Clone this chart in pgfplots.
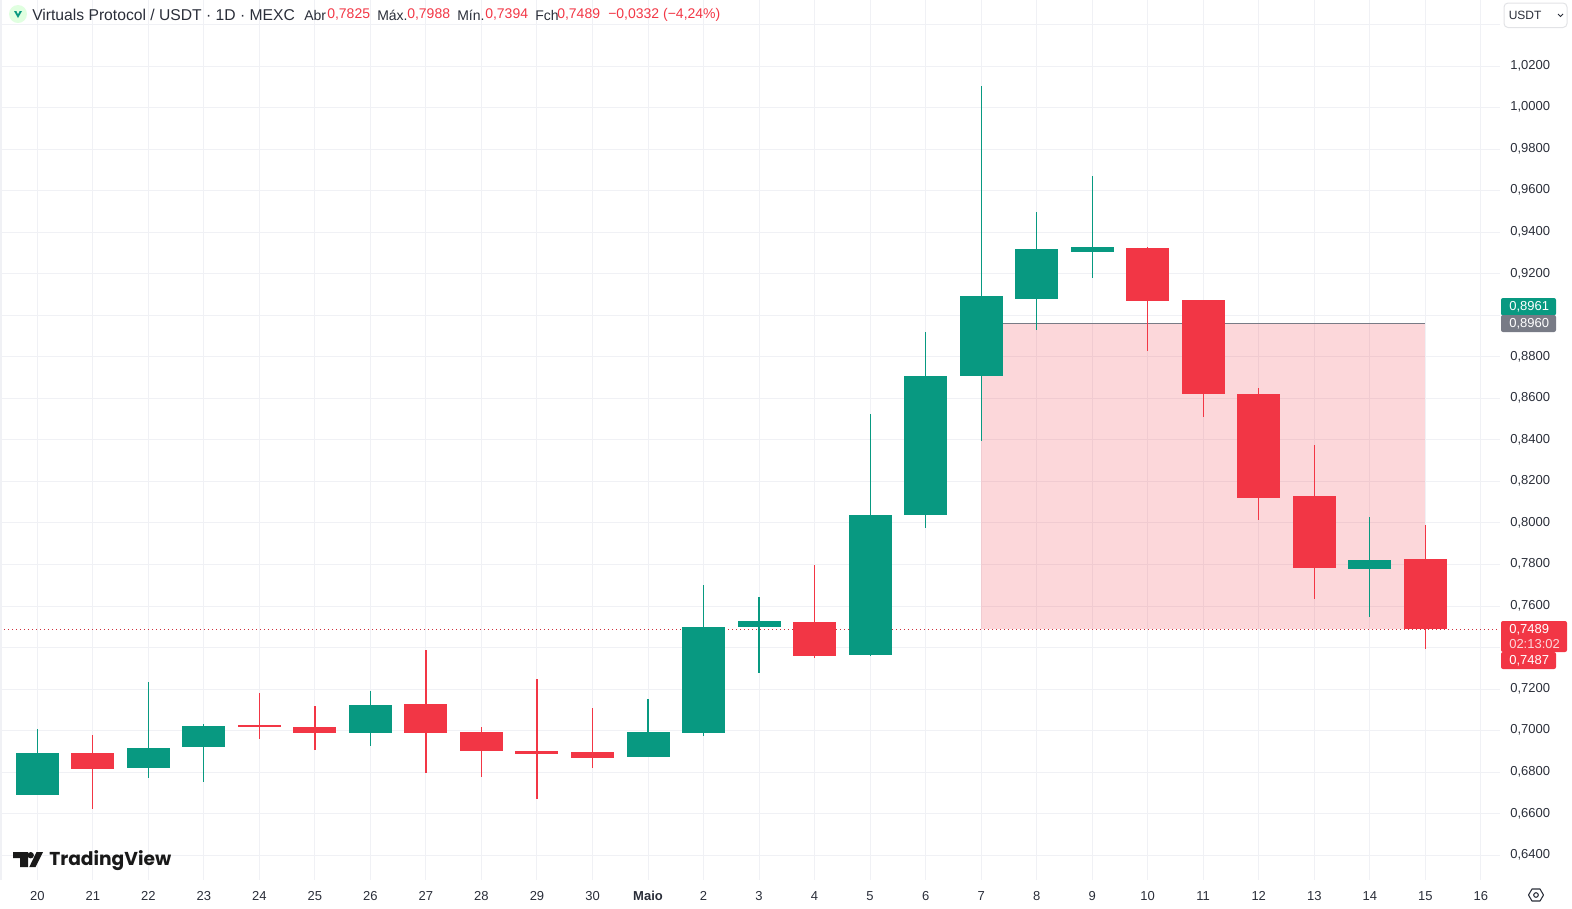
\documentclass[border=0pt]{standalone}
\usepackage{pgfplots}
\usepackage{pgfplotstable}
\usepackage{fontspec}
\pgfplotsset{compat=1.18}
\setmainfont{Liberation Sans}
\newfontfamily\logofont{Poppins}
\definecolor{up}{HTML}{089981}
\definecolor{down}{HTML}{F23645}
\definecolor{gridc}{HTML}{F0F1F5}
\definecolor{tagg}{HTML}{787B86}
\definecolor{ink}{HTML}{2A2E39}
\pgfplotstableread{
x high top bottom low
0 0.7008 0.6892 0.6690 0.6690
2 0.7234 0.6916 0.6820 0.6773
3 0.7032 0.7022 0.6921 0.6754
6 0.7191 0.7123 0.6989 0.6928
11 0.7152 0.6993 0.6873 0.6873
12 0.7701 0.7499 0.6989 0.6976
13 0.7643 0.7528 0.7499 0.7279
15 0.8525 0.8038 0.7364 0.7359
16 0.8919 0.8708 0.8038 0.7977
17 1.0104 0.9093 0.8709 0.8395
18 0.9497 0.9319 0.9078 0.8930
19 0.9670 0.9329 0.9304 0.9181
24 0.8029 0.7822 0.7778 0.7549
}\upcandles
\pgfplotstableread{
x high top bottom low
1 0.6979 0.6892 0.6815 0.6624
4 0.7181 0.7029 0.7018 0.6961
5 0.7119 0.7018 0.6989 0.6908
7 0.7388 0.7128 0.6989 0.6797
8 0.7018 0.6993 0.6902 0.6778
9 0.7249 0.6902 0.6888 0.6672
10 0.7109 0.6897 0.6868 0.6822
14 0.7798 0.7523 0.7359 0.7350
20 0.9329 0.9324 0.9070 0.8829
21 0.9073 0.9073 0.8621 0.8512
22 0.8650 0.8621 0.8120 0.8016
23 0.8375 0.8130 0.7783 0.7635
25 0.7988 0.7825 0.7489 0.7394
}\downcandles
\begin{document}
\begin{tikzpicture}[x=0.75pt,y=-0.75pt]
\useasboundingbox (0,0) rectangle (1572,908);
\begin{axis}[
  at={(0,0)},anchor=north west,
  scale only axis,width=1125pt,height=660pt,
  xmin=-0.672,xmax=26.345,ymin=0.62809,ymax=1.05178,
  axis line style={draw=none},
  major tick length=0pt,
  xtick={0,1,...,26},
  xticklabels={20,21,22,23,24,25,26,27,28,29,30,{\bfseries Maio},2,3,4,5,6,7,8,9,10,11,12,13,14,15,16},
  ytick={0.64,0.66,0.68,0.70,0.72,0.74,0.76,0.78,0.80,0.82,0.84,0.86,0.88,0.90,0.92,0.94,0.96,0.98,1.00,1.02,1.04},
  yticklabels={{0,6400},{0,6600},{0,6800},{0,7000},{0,7200},{},{0,7600},{0,7800},{0,8000},{0,8200},{0,8400},{0,8600},{0,8800},{},{0,9200},{0,9400},{0,9600},{0,9800},{1,0000},{1,0200},{}},
  yticklabel pos=right,
  grid=major,
  grid style={gridc,line width=0.75pt},
  tick label style={font=\fontsize{9.75}{11}\selectfont,text=ink},
  xticklabel style={anchor=center,yshift=-12pt},
  yticklabel style={anchor=west,xshift=4.2pt,yshift=0.3pt},
  clip=true,
  error bars/error mark=none,
]
% position box
\addplot[draw=none,fill=down,fill opacity=0.2,forget plot] coordinates {(17,0.8960) (25,0.8960) (25,0.7489) (17,0.7489)} --cycle;
\addplot[tagg,line width=0.9pt,forget plot] coordinates {(17,0.8960) (25,0.8960)};
% last price line
\addplot[down!85!black,line width=0.85pt,dash pattern=on 0.85pt off 2.15pt,forget plot] coordinates {(-0.672,0.7489) (26.3,0.7489)};
% wicks
\addplot[draw=none,mark=none,forget plot,error bars/.cd,y dir=both,y explicit,error bar style={up,line width=0.9pt}]
  table[x=x,y expr=\thisrow{top},y error plus expr=\thisrow{high}-\thisrow{top},y error minus expr=\thisrow{top}-\thisrow{low}] {\upcandles};
\addplot[draw=none,mark=none,forget plot,error bars/.cd,y dir=both,y explicit,error bar style={down,line width=0.9pt}]
  table[x=x,y expr=\thisrow{top},y error plus expr=\thisrow{high}-\thisrow{top},y error minus expr=\thisrow{top}-\thisrow{low}] {\downcandles};
% bodies
\addplot[draw=none,mark=none,forget plot,error bars/.cd,y dir=both,y explicit,error bar style={up,line width=32.25pt}]
  table[x=x,y expr=(\thisrow{top}+\thisrow{bottom})/2,y error expr=(\thisrow{top}-\thisrow{bottom})/2] {\upcandles};
\addplot[draw=none,mark=none,forget plot,error bars/.cd,y dir=both,y explicit,error bar style={down,line width=32.25pt}]
  table[x=x,y expr=(\thisrow{top}+\thisrow{bottom})/2,y error expr=(\thisrow{top}-\thisrow{bottom})/2] {\downcandles};
\end{axis}
% left border
\draw[gridc,line width=1pt] (1,0)--(1,880);
% header
\fill[green!12!white] (18,14) circle (9);
\fill[up] (14,11)--(22,11)--(18,18)--cycle;
\fill[green!12!white] (16.5,11)--(19.5,11)--(18,14)--cycle;
\def\hd#1#2#3{\node[anchor=west,inner sep=0pt,text=#2,font=\fontsize{10.5}{12}\selectfont] at (#1,15) {#3};}
\node[anchor=west,inner sep=0pt,text=ink,font=\fontsize{11.75}{14}\selectfont] at (32,14.5) {Virtuals Protocol / USDT · 1D · MEXC};
\hd{304}{ink}{Abr}\hd{327}{down}{0,7825}
\hd{377}{ink}{Máx.}\hd{407}{down}{0,7988}
\hd{457}{ink}{Mín.}\hd{485}{down}{0,7394}
\hd{535}{ink}{Fch}\hd{557}{down}{0,7489}
\hd{608}{down}{−0,0332 (−4,24\%)}
% currency box
\filldraw[fill=white,draw=gridc!80!black!30!gridc,line width=0.75pt,rounded corners=3pt] (1504,3) rectangle (1567,27.5);
\node[anchor=west,inner sep=0pt,text=ink,font=\fontsize{9}{11}\selectfont] at (1508.5,15) {USDT};
\draw[ink,line width=0.7pt] (1558,14)--(1560.5,16.5)--(1563,14);
% price tags
\fill[up,rounded corners=1.5pt] (1501,298) rectangle (1556,315.5);
\fill[tagg,rounded corners=1.5pt] (1501,315) rectangle (1556,332);
\fill[down,rounded corners=1.5pt] (1501,652) rectangle (1556,669);
\fill[down,rounded corners=1.5pt] (1501,621) rectangle (1567,652);
\def\tg#1#2#3{\node[anchor=west,inner sep=0pt,text=#3,font=\fontsize{9.75}{11}\selectfont] at (1509,#1) {#2};}
\tg{307}{0,8961}{white}
\tg{324}{0,8960}{white}
\tg{630}{0,7489}{white}
\tg{643.7}{02:13:02}{white!80!down}
\tg{661}{0,7487}{white}
% logo
\fill[black!90] (13,852)--(28,852)--(28,867)--(20,867)--(20,858)--(13,858)--cycle;
\fill[black!90] (30.7,855.2) circle (3.2);
\fill[black!90] (36.5,852)--(43,852)--(35.5,867)--(29.3,867)--cycle;
\node[anchor=west,inner sep=0pt,text=black!90,font=\logofont\bfseries\fontsize{14}{17}\selectfont] at (49,861) {TradingView};
% settings icon
\draw[ink,line width=0.8pt,line join=round] (1528.5,895)--(1532,889)--(1540,889)--(1543.5,895)--(1540,901)--(1532,901)--cycle;
\draw[ink,line width=0.8pt] (1536,895) circle (2.3);
\end{tikzpicture}
\end{document}
